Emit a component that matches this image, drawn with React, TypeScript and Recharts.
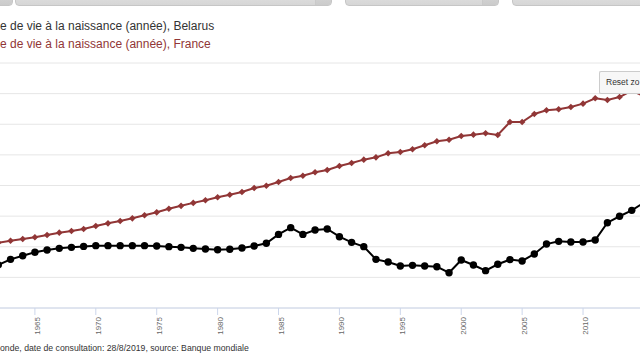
import { LineChart, Line, XAxis, YAxis, CartesianGrid } from 'recharts';

// Espérance de vie à la naissance (années), Banque mondiale
const years = [
    1960, 1961, 1962, 1963, 1964, 1965, 1966, 1967, 1968, 1969,
    1970, 1971, 1972, 1973, 1974, 1975, 1976, 1977, 1978, 1979,
    1980, 1981, 1982, 1983, 1984, 1985, 1986, 1987, 1988, 1989,
    1990, 1991, 1992, 1993, 1994, 1995, 1996, 1997, 1998, 1999,
    2000, 2001, 2002, 2003, 2004, 2005, 2006, 2007, 2008, 2009,
    2010, 2011, 2012, 2013, 2014, 2015, 2016, 2017,
];

const belarus = [
    67.6, 68.1, 68.52, 68.97, 69.27, 69.55, 69.73, 69.87, 69.95, 70.03,
    70.09, 70.09, 70.09, 70.09, 70.09, 70.06, 70.01, 69.95, 69.87, 69.82,
    69.76, 69.79, 69.9, 70.06, 70.28, 71.01, 71.56, 71.01, 71.37, 71.45,
    70.82, 70.36, 70.01, 68.97, 68.76, 68.43, 68.48, 68.43, 68.37, 67.88,
    68.92, 68.51, 68.05, 68.57, 68.95, 68.84, 69.41, 70.22, 70.44, 70.39,
    70.39, 70.55, 71.96, 72.49, 72.97, 73.6, 73.8, 74.1,
];

const france = [
    69.9, 70.1, 70.33, 70.49, 70.63, 70.77, 70.96, 71.15, 71.29, 71.45,
    71.69, 71.91, 72.1, 72.32, 72.57, 72.81, 73.1, 73.34, 73.58, 73.8,
    74.04, 74.25, 74.47, 74.8, 74.98, 75.29, 75.61, 75.8, 76.08, 76.27,
    76.59, 76.84, 77.11, 77.3, 77.63, 77.73, 77.96, 78.28, 78.61, 78.74,
    79.04, 79.15, 79.26, 79.12, 80.18, 80.18, 80.84, 81.14, 81.22, 81.41,
    81.68, 82.12, 81.98, 82.22, 82.75, 82.3, 82.5, 82.5,
];

// only the ticks that fall inside the visible crop
const xTicks = [1965, 1970, 1975, 1980, 1985, 1990, 1995, 2000, 2005, 2010];
const yTicks = [65, 67.5, 70, 72.5, 75, 77.5, 80, 82.5, 85];

const data = years.map((year, i) => ({ year, belarus: belarus[i], france: france[i] }));

const RED = '#913636';
const FONT = '"Liberation Sans", Arial, Helvetica, sans-serif';

const YearTick = (props: any) => {
    const { x, y, payload } = props;
    return (
        <text
            x={x}
            y={y}
            dy={5}
            transform={`rotate(-90 ${x} ${y})`}
            textAnchor="end"
            fontSize={8}
            fill="#666666"
            fontFamily={FONT}
        >
            {payload.value}
        </text>
    );
};

const Diamond = (props: any) => {
    const { cx, cy } = props;
    if (cx == null || cy == null) return null;
    const s = 3.3;
    return (
        <path
            d={`M${cx},${cy - s} L${cx + s},${cy} L${cx},${cy + s} L${cx - s},${cy} Z`}
            fill={RED}
        />
    );
};

const selectBox = (left: number, width: number, arrow: boolean) => (
    <div
        style={{
            position: 'absolute',
            left,
            top: -20,
            width,
            height: 24,
            background: 'linear-gradient(#ececec, #d6d6d6)',
            border: '1px solid #c6c6c6',
            borderRadius: '0 0 4px 4px',
            overflow: 'hidden',
        }}
    >
        {arrow && (
            <div
                style={{
                    position: 'absolute',
                    right: 0,
                    top: 0,
                    width: 15,
                    height: '100%',
                    background: 'linear-gradient(#e2e2e2, #cbcbcb)',
                    borderLeft: '1px solid #c9c9c9',
                }}
            />
        )}
    </div>
);

export default function App() {
    return (
        <div
            style={{
                position: 'absolute',
                left: 0,
                top: 0,
                width: 640,
                height: 360,
                overflow: 'hidden',
                background: '#ffffff',
                fontFamily: FONT,
            }}
        >
            {/* controls above the chart, mostly cut off */}
            {selectBox(-60, 71, true)}
            {selectBox(15, 315, true)}
            {selectBox(345, 152, true)}
            {selectBox(512, 160, false)}

            {/* legend */}
            <div style={{ position: 'absolute', left: 0, top: 19, fontSize: 12, lineHeight: '14px', color: '#333333', whiteSpace: 'nowrap' }}>
                e de vie à la naissance (année), Belarus
            </div>
            <div style={{ position: 'absolute', left: 0, top: 37, fontSize: 12, lineHeight: '14px', color: RED, whiteSpace: 'nowrap' }}>
                e de vie à la naissance (année), France
            </div>

            <div style={{ position: 'absolute', left: -40, top: 0 }}>
                <LineChart width={720} height={360} data={data} margin={{ top: 63, right: 11.7, bottom: 7, left: 14 }}>
                    <CartesianGrid vertical={false} stroke="#e6e6e6" />
                    <XAxis
                        dataKey="year"
                        type="number"
                        domain={[1960, 2017]}
                        ticks={xTicks}
                        height={45}
                        stroke="#ccd6eb"
                        tickSize={7}
                        tick={<YearTick />}
                        interval={0}
                    />
                    <YAxis hide domain={[65, 85]} ticks={yTicks} />
                    <Line
                        dataKey="belarus"
                        stroke="#000000"
                        strokeWidth={2}
                        dot={{ r: 3.7, fill: '#000000', stroke: 'none' }}
                        isAnimationActive={false}
                    />
                    <Line
                        dataKey="france"
                        stroke={RED}
                        strokeWidth={2}
                        dot={<Diamond />}
                        isAnimationActive={false}
                    />
                </LineChart>
            </div>

            {/* reset zoom button, cut by the right edge */}
            <div
                style={{
                    position: 'absolute',
                    left: 599,
                    top: 71,
                    width: 35,
                    height: 21,
                    background: '#f7f7f7',
                    border: '1px solid #cccccc',
                    borderRight: 'none',
                    borderRadius: '2px 0 0 2px',
                    fontSize: 8.5,
                    lineHeight: '21px',
                    paddingLeft: 6,
                    color: '#333333',
                    whiteSpace: 'nowrap',
                    overflow: 'hidden',
                    boxSizing: 'content-box',
                }}
            >
                Reset zo
            </div>

            {/* credits */}
            <div style={{ position: 'absolute', left: 0, top: 342.7, fontSize: 8.7, lineHeight: '10px', color: '#333333', whiteSpace: 'nowrap' }}>
                onde, date de consultation: 28/8/2019, source: Banque mondiale
            </div>
        </div>
    );
}
